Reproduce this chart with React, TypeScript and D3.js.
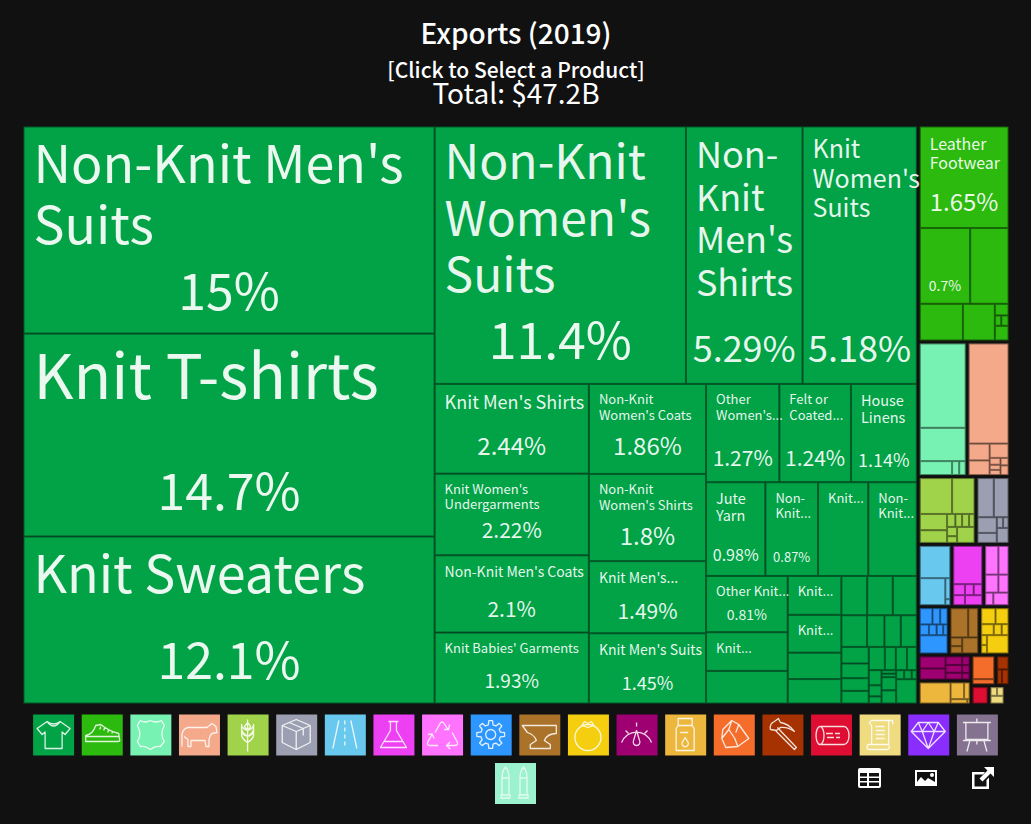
import React from "react";
import * as d3 from "d3";

// ---------- data (shares of total exports, %) ----------
const sectionNames = ["Textiles","Footwear and Headwear","Animal Hides","Animal Products","Vegetable Products","Miscellaneous","Transportation","Chemical Products","Plastics and Rubbers","Machines","Metals","Foodstuffs","Instruments","Animal and Vegetable Bi-Products","Stone And Glass","Mineral Products","Wood Products","Paper Goods","Remainder"];
const sectionColors = ["#02A347","#2CBA0F","#77F2B2","#F4A98A","#A1D34A","#9C9FB2","#69C8ED","#ED40F2","#FF73FF","#2E97FF","#AA7329","#F4CE0F","#9E0071","#EDB73E","#F46D2A","#A53200","#DD0E31","#EFDC81","none"];

const textiles = [15,14.7,12.1,11.4,5.29,5.18,2.44,2.22,2.1,1.93,1.86,1.8,1.49,1.45,1.27,1.24,1.14,0.98,0.87,0.83,0.8,0.81,0.556,0.469,0.368,0.358,0.25,0.231,0.179,0.177,0.166,0.143,0.097,0.091,0.089,0.08,0.071,0.061,0.061,0.066,0.045,0.046,0.04,0.034,0.025,0.016,0.009,0.009,0.034,0.034,0.0127,0.012,0.008,0.088];
const footwear = [1.65,0.7,0.532,0.29,0.2146,0.0293,0.0122,0.0136,0.0368];
const hides = [0.737,0.291,0.0859,0.019,0.017];
const animal = [0.767,0.068,0.059,0.052,0.0143,0.0108,0.0108,0.0115,0.0149];
const vegetable = [0.224,0.155,0.0857,0.0667,0.0208,0.0168,0.0175,0.0135,0.0179,0.0129,0.0536];
const miscellaneous = [0.128,0.1155,0.0606,0.0386,0.0135,0.0116,0.0351];
const transportation = [0.199,0.1395,0.0211,0.006];
const chemicals = [0.2247,0.026,0.0237,0.0194,0.0191,0.035];
const plastics = [0.0782,0.0602,0.049,0.0377,0.0211,0.0396];
const machines = [0.0427,0.0259,0.0245,0.0205,0.017,0.0148,0.0095,0.1045];
const metals = [0.107,0.0604,0.021,0.0176,0.0528];
const foodstuffs = [0.0472,0.0429,0.0284,0.018,0.0155,0.0117,0.0099,0.0816];
const instruments = [0.0649,0.0595,0.0295,0.0271,0.0235,0.0135,0.0122,0.0104];
const biProducts = [0.137,0.0479,0.0195,0.0153,0.0021];
const stone = [0.1083,0.0239];
const minerals = [0.036,0.0169,0.0237];
const wood = [0.0606];
const paper = [0.0143,0.0143,0.0254];
const remainder = [0.0168];
const sectionValues = [textiles,footwear,hides,animal,vegetable,miscellaneous,transportation,chemicals,plastics,machines,metals,foodstuffs,instruments,biProducts,stone,minerals,wood,paper,remainder];

const titleText = "Exports (2019)";
const subtitleText = "[Click to Select a Product]";
const totalText = "Total: $47.2B";

// [section, product index, label lines, share text]
const productLabels: [number, number, string[], string][] = [
  [0,0,["Non-Knit Men's","Suits"],"15%"],
  [0,1,["Knit T-shirts"],"14.7%"],
  [0,2,["Knit Sweaters"],"12.1%"],
  [0,3,["Non-Knit","Women's","Suits"],"11.4%"],
  [0,4,["Non-","Knit","Men's","Shirts"],"5.29%"],
  [0,5,["Knit","Women's","Suits"],"5.18%"],
  [0,6,["Knit Men's Shirts"],"2.44%"],
  [0,7,["Knit Women's","Undergarments"],"2.22%"],
  [0,8,["Non-Knit Men's Coats"],"2.1%"],
  [0,9,["Knit Babies' Garments"],"1.93%"],
  [0,10,["Non-Knit","Women's Coats"],"1.86%"],
  [0,11,["Non-Knit","Women's Shirts"],"1.8%"],
  [0,12,["Knit Men's..."],"1.49%"],
  [0,13,["Knit Men's Suits"],"1.45%"],
  [0,14,["Other","Women's..."],"1.27%"],
  [0,15,["Felt or","Coated..."],"1.24%"],
  [0,16,["House","Linens"],"1.14%"],
  [0,17,["Jute","Yarn"],"0.98%"],
  [0,18,["Non-","Knit..."],"0.87%"],
  [0,19,["Knit..."],""],
  [0,20,["Non-","Knit..."],""],
  [0,21,["Other Knit..."],"0.81%"],
  [0,22,["Knit..."],""],
  [0,24,["Knit..."],""],
  [0,25,["Knit..."],""],
  [1,0,["Leather","Footwear"],"1.65%"],
  [1,1,[],"0.7%"],
];
// styling for the labels above, same order: [label size, share size, share baseline offset from tile bottom]
const labelStyles: [number, number, number][] = [
  [52,50,23],[62,50,26],[52,50,24],[48,50,24],[36,36,21],[25,36,21],
  [18,24,18],[13,21,17],[14,21,15],[13,19,15],[13,24,18],[13,24,16],[14,21,14],[14,18,13],
  [13,21,16],[13,21,16],[14.5,18,15],[14.5,16,14],[13,13,13],[13,0,0],[13,0,0],[13,14,12],[13,0,0],[13,0,0],[13,0,0],
  [16,24,16],[14,14,12],
];

const iconSections = ["Textiles","Footwear and Headwear","Animal Hides","Animal Products","Vegetable Products","Miscellaneous","Transportation","Chemical Products","Plastics and Rubbers","Machines","Metals","Foodstuffs","Instruments","Animal and Vegetable Bi-Products","Stone And Glass","Mineral Products","Wood Products","Paper Goods","Precious Metals","Arts and Antiques"];
const iconColors = ["#02A347","#2CBA0F","#77F2B2","#F4A98A","#A1D34A","#9C9FB2","#69C8ED","#ED40F2","#FF73FF","#2E97FF","#AA7329","#F4CE0F","#9E0071","#EDB73E","#F46D2A","#A53200","#DD0E31","#EFDC81","#892EFF","#847290"];
const weaponsColor = "#9CF2CF";

const FONT = '"Noto Sans CJK SC","Noto Sans",sans-serif';
const BG = "#111111";

function gearPath(cx: number, cy: number, r0: number, r1: number, n: number) {
  const pts: [number, number][] = [];
  for (let i = 0; i < n; i++) {
    const a = (i / n) * 2 * Math.PI;
    const t = (2 * Math.PI) / n;
    [[-0.3, r0], [-0.17, r1], [0.17, r1], [0.3, r0]].forEach(([f, r]) =>
      pts.push([cx + r * Math.cos(a + f * t), cy + r * Math.sin(a + f * t)])
    );
  }
  return (d3.line().curve(d3.curveLinearClosed)(pts) as string);
}

const iconPaths: string[] = [
  "M14 7Q20.5 12 27 7L37 14L32 20L29 17.5L29 34L12 34L12 17.5L9 20L4 14ZM14 7Q20.5 16 27 7",
  "M4 21Q11 20 14 11L19 10Q28 17 37 19L38 26Q38 27 36 27L4 27ZM4 22L38 22M19 12L18 15M23 13L22 16M27 15L26 18M31 17L30 19",
  "M10 6Q15 9 20 6Q26 9 31 6L34 11Q29 20 34 27L30 32Q25 31 20 35Q15 31 10 32L7 27Q12 20 7 11Z",
  "M3 32L3 20Q4 14 9 13L28 13L33 9L37 12L38 18L33 19Q30 22 30 27L30 32L27 32L26 26L12 26L12 32L9 32L9 25L5 22",
  "M20 37L20 5M20 8L17 12L20 16L23 12ZM20 16Q14 14 14 10L14 15Q15 19 20 22Q25 19 26 15L26 10Q26 14 20 16ZM20 22Q14 20 14 16L14 21Q15 25 20 28Q25 25 26 21L26 16Q26 20 20 22Z",
  "M20 5L34 11L34 28L20 35L6 28L6 11ZM6 11L20 17L34 11M20 17L20 35M13 8L27 14L27 21",
  "M8 34L14 6M32 34L26 6",
  "M15 7L25 7M17 7L17 16L7 33L33 33L23 16L23 7M11 27L29 27",
  "M13 18L18 9Q20 6 22 9L26 15M22 15L26.5 15L27.5 10M30 18L35 27Q37 31 32 31L25 31M28 27.5L24.5 31L28 34.5M16 31L8 31Q4 31 6 27L10 20M6 20L10 19.5L12 24",
  gearPath(20, 20, 10, 14, 8) + "M25 20A5 5 0 1 1 15 20A5 5 0 1 1 25 20",
  "M3 11L37 11L37 19Q28 19 25 26L31 30L31 34L11 34L11 30L17 26Q15 20 8 18Z",
  "M33 23A13 13 0 1 1 7 23A13 13 0 1 1 33 23M14 11L20 13L26 11L23.5 7L20 9L16.5 7Z",
  "M5 28A16 16 0 0 1 35 28M20 16L17 26A3.4 3.4 0 1 0 23 26ZM20 8L20 12M9 16L12 19M31 16L28 19",
  "M13 4L27 4L27 11L29 14L29 36L11 36L11 14L13 11ZM13 11L27 11M15 18L23 18M20 23L17 28A3.2 3.2 0 1 0 23 28Z",
  "M9 15L18 6L25 10L35 24L24 32L12 33L8 24ZM18 6L15 15L21 24L24 32M15 15L8 24M25 10L22 18",
  "M8 15Q7 9 12 7L16 4L18 8Q26 9 32 17Q25 12 18 13L14 16ZM15 13L34 33L32 35L13 16",
  "M9 12L33 12A5 9 0 0 1 33 30L9 30A4 9 0 0 1 9 12A4 9 0 0 1 9 30M15 19L22 19M24 19L29 19M16 23L23 23M25 23L29 23",
  "M12 6L33 6L33 10M12 6Q8 8 12 11L12 30L8 30Q6 35 10 35L28 35Q31 33 29 30L12 30M29 30L29 6M16 12L25 12M16 16L25 16M16 20L25 20M16 24L25 24",
  "M10 8L30 8L37 17L20 34L3 17ZM3 17L37 17M10 8L14 17L20 34L26 17L30 8M14 17L20 8L26 17",
  "M9 8L31 8L31 25L9 25ZM6 8L34 8M6 26L34 26M20 4L20 8M13 26L10 37M27 26L30 37M20 26L20 30",
];
const weaponsIcon = "M7 32L7 15Q7 8 10.5 4Q14 8 14 15L14 32ZM6 32L15 32L15 35L6 35ZM7 15L14 15M25 32L25 15Q25 8 28.5 4Q32 8 32 15L32 32ZM24 32L33 32L33 35L24 35ZM25 15L32 15";

type Node = d3.HierarchyRectangularNode<any>;

export default function App() {
  const treeData = {
    name: "root",
    children: sectionNames.map((name, s) => ({
      name,
      section: s,
      children: sectionValues[s].map((value, p) => ({ name: `${name} ${p}`, section: s, product: p, value })),
    })),
  };
  const root = d3.hierarchy<any>(treeData).sum((d) => d.value || 0);
  const layout = d3
    .treemap<any>()
    .tile(d3.treemapSquarify)
    .size([984, 576])
    .paddingInner((d: any) => (d.depth === 0 ? 4 : 1));
  const tree = layout(root) as Node;
  const leaves = tree.leaves();

  const iconX = d3.scaleBand<string>().domain(iconSections).range([29.3, 1001.7]).paddingInner(0);

  return (
    <div style={{ position: "absolute", left: 0, top: 0, width: 1031, height: 824, overflow: "hidden", background: BG }}>
      <svg width={1031} height={824} style={{ display: "block", fontFamily: FONT }}>
        <rect width={1031} height={824} fill={BG} />
        <g textAnchor="middle" fill="#fff">
          <text x={516} y={44} fontSize={28} fontWeight={500}>{titleText}</text>
          <text x={516} y={78} fontSize={21} fontWeight={500}>{subtitleText}</text>
          <text x={516} y={104} fontSize={28}>{totalText}</text>
        </g>
        <g transform="translate(24,127)">
          {leaves.map((n: Node, i) => {
            const c = sectionColors[n.data.section];
            if (c === "none") return null;
            return (
              <rect key={i} x={n.x0} y={n.y0} width={Math.max(0, n.x1 - n.x0)} height={Math.max(0, n.y1 - n.y0)}
                fill={c} stroke={(d3.color(c) as d3.RGBColor).darker(1.6).formatHex()} strokeWidth={1} />
            );
          })}
          {productLabels.map(([s, p, lines, share], i) => {
            const n = leaves.find((l: Node) => l.data.section === s && l.data.product === p) as Node;
            const [fs, shareFs, shareOff] = labelStyles[i];
            const lh = fs * 1.18;
            return (
              <g key={i} fill="#fff" fillOpacity={0.92}>
                {lines.map((line, k) => (
                  <text key={k} x={n.x0 + 9.5} y={n.y0 + 8 + fs * 0.92 + k * lh} fontSize={fs}>{line}</text>
                ))}
                {share && (
                  <text x={(n.x0 + n.x1) / 2} y={n.y1 - shareOff} fontSize={shareFs} textAnchor="middle">{share}</text>
                )}
              </g>
            );
          })}
        </g>
        <g>
          {iconSections.map((name, i) => {
            const x = (iconX(name) as number) + (iconX.bandwidth() - 41) / 2;
            return (
              <g key={name} transform={`translate(${x},714.5)`}>
                <rect width={41} height={41} fill={iconColors[i]} />
                <path d={iconPaths[i]} fill="none" stroke="#fff" strokeOpacity={0.85} strokeWidth={1.3} strokeLinejoin="round" />
                {i === 6 && <path d="M20 6L20 34" stroke="#fff" strokeOpacity={0.85} strokeWidth={1.3} strokeDasharray="4 3" />}
              </g>
            );
          })}
          <g transform="translate(495,763)">
            <rect width={41} height={41} fill={weaponsColor} />
            <path d={weaponsIcon} fill="none" stroke="#fff" strokeOpacity={0.7} strokeWidth={1.3} />
          </g>
        </g>
        <g fill="#fff">
          <path fillRule="evenodd" d="M858 770Q858 768 860 768L879 768Q881 768 881 770L881 786Q881 788 879 788L860 788Q858 788 858 786ZM860 773L860 776.5L867 776.5L867 773ZM869 773L869 776.5L879 776.5L879 773ZM860 778L860 781L867 781L867 778ZM869 778L869 781L879 781L879 778ZM860 782.500L860 786L867 786L867 782.500ZM869 782.500L869 786L879 786L879 782.500Z" />
          <path fillRule="evenodd" d="M915 770L937 770L937 786L915 786ZM917 772L917 782L921 777L925 781L928 778L935 782L935 772ZM930 775A2 2 0 1 0 934 775A2 2 0 1 0 930 775Z" />
          <path fillRule="evenodd" d="M972 772L985 772L983 774.500L974.500 774.500L974.500 786.500L986.500 786.500L986.500 780L989 777.500L989 789L972 789ZM984 767L994 767L994 777L990.500 773.500L982.500 781.500L979.500 778.500L987.500 770.500Z" />
        </g>
      </svg>
    </div>
  );
}
